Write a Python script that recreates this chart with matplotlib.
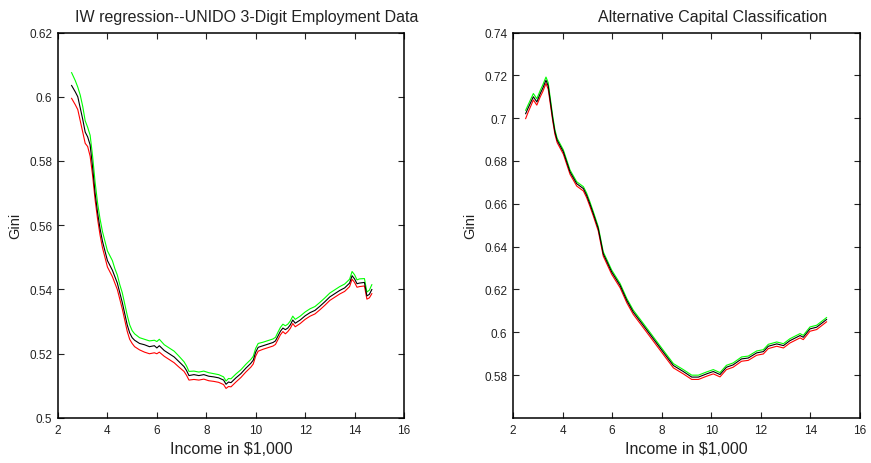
import matplotlib
matplotlib.use('Agg')
import matplotlib.pyplot as plt

plt.rcParams['font.family'] = ['Liberation Sans', 'DejaVu Sans']

# IW regression, UNIDO 3-digit employment data
left_x = [2.55, 2.7, 2.8, 2.9, 3.0, 3.1, 3.2, 3.3, 3.4, 3.5,
          3.6, 3.7, 3.8, 3.9, 4.0, 4.1, 4.2, 4.3, 4.4, 4.5,
          4.6, 4.7, 4.8, 4.9, 5.0, 5.1, 5.3, 5.5, 5.7, 5.9,
          6.0, 6.1, 6.3, 6.5, 6.7, 6.9, 7.1, 7.2, 7.3, 7.5,
          7.7, 7.9, 8.1, 8.3, 8.5, 8.7, 8.8, 8.9, 9.0, 9.2,
          9.4, 9.6, 9.8, 9.9, 10.0, 10.1, 10.3, 10.5, 10.7, 10.8,
          10.9, 11.0, 11.1, 11.2, 11.3, 11.4, 11.5, 11.6, 11.8, 12.0,
          12.2, 12.4, 12.6, 12.8, 13.0, 13.2, 13.4, 13.6, 13.8, 13.9,
          14.0, 14.1, 14.2, 14.4, 14.5, 14.6, 14.7]
left_mid = [0.6035, 0.6015, 0.6000, 0.5965, 0.5930, 0.5890, 0.5875, 0.5850, 0.5780, 0.5700,
            0.5640, 0.5590, 0.5550, 0.5520, 0.5490, 0.5475, 0.5460, 0.5440, 0.5420, 0.5390,
            0.5360, 0.5325, 0.5290, 0.5265, 0.5250, 0.5242, 0.5232, 0.5228, 0.5222, 0.5225,
            0.5218, 0.5225, 0.5210, 0.5200, 0.5190, 0.5175, 0.5160, 0.5148, 0.5132, 0.5135,
            0.5132, 0.5135, 0.5130, 0.5128, 0.5125, 0.5118, 0.5105, 0.5112, 0.5110, 0.5125,
            0.5138, 0.5155, 0.5170, 0.5180, 0.5205, 0.5220, 0.5225, 0.5230, 0.5235, 0.5240,
            0.5255, 0.5270, 0.5280, 0.5275, 0.5280, 0.5290, 0.5305, 0.5295, 0.5305, 0.5318,
            0.5328, 0.5335, 0.5348, 0.5362, 0.5377, 0.5387, 0.5397, 0.5405, 0.5420, 0.5443,
            0.5433, 0.5418, 0.5420, 0.5422, 0.5380, 0.5385, 0.5400]
left_hi = [0.6075, 0.6050, 0.6030, 0.6005, 0.5970, 0.5925, 0.5905, 0.5880, 0.5815, 0.5735,
           0.5670, 0.5620, 0.5580, 0.5550, 0.5520, 0.5505, 0.5490, 0.5465, 0.5445, 0.5415,
           0.5390, 0.5355, 0.5320, 0.5290, 0.5272, 0.5262, 0.5250, 0.5245, 0.5240, 0.5242,
           0.5238, 0.5245, 0.5228, 0.5218, 0.5208, 0.5192, 0.5175, 0.5162, 0.5145, 0.5146,
           0.5143, 0.5146, 0.5141, 0.5138, 0.5135, 0.5128, 0.5115, 0.5123, 0.5122, 0.5137,
           0.5150, 0.5167, 0.5182, 0.5192, 0.5217, 0.5232, 0.5236, 0.5241, 0.5246, 0.5251,
           0.5267, 0.5282, 0.5292, 0.5287, 0.5292, 0.5302, 0.5317, 0.5307, 0.5317, 0.5330,
           0.5340, 0.5347, 0.5360, 0.5374, 0.5389, 0.5399, 0.5409, 0.5417, 0.5432, 0.5456,
           0.5446, 0.5430, 0.5433, 0.5434, 0.5392, 0.5398, 0.5415]
left_lo = [0.5995, 0.5975, 0.5960, 0.5925, 0.5890, 0.5855, 0.5845, 0.5815, 0.5755, 0.5680,
           0.5620, 0.5570, 0.5530, 0.5500, 0.5470, 0.5455, 0.5440, 0.5420, 0.5400, 0.5370,
           0.5340, 0.5305, 0.5270, 0.5245, 0.5232, 0.5222, 0.5212, 0.5205, 0.5200, 0.5203,
           0.5200, 0.5205, 0.5192, 0.5182, 0.5172, 0.5158, 0.5145, 0.5133, 0.5118, 0.5120,
           0.5118, 0.5121, 0.5116, 0.5114, 0.5111, 0.5104, 0.5092, 0.5098, 0.5097, 0.5112,
           0.5126, 0.5143, 0.5158, 0.5168, 0.5193, 0.5208, 0.5214, 0.5219, 0.5224, 0.5229,
           0.5244, 0.5259, 0.5269, 0.5262, 0.5269, 0.5279, 0.5294, 0.5284, 0.5294, 0.5307,
           0.5317, 0.5324, 0.5337, 0.5351, 0.5366, 0.5376, 0.5386, 0.5394, 0.5409, 0.5432,
           0.5422, 0.5407, 0.5409, 0.5411, 0.5370, 0.5374, 0.5387]

# alternative capital classification
right_x = [2.51, 2.6, 2.7, 2.82, 2.96, 3.1, 3.2, 3.33, 3.42, 3.49,
           3.6, 3.69, 3.78, 4.03, 4.3, 4.57, 4.84, 4.97, 5.1, 5.24,
           5.44, 5.64, 5.98, 6.32, 6.59, 6.85, 7.26, 7.66, 8.06, 8.47,
           8.87, 9.21, 9.48, 9.81, 10.08, 10.35, 10.61, 10.88, 11.22, 11.49,
           11.83, 12.1, 12.3, 12.64, 12.91, 13.17, 13.58, 13.71, 13.98, 14.25, 14.65]
right_mid = [0.7021, 0.7045, 0.7070, 0.7100, 0.7076, 0.7115, 0.7140, 0.7177, 0.7150, 0.7092,
             0.7000, 0.6936, 0.6897, 0.6843, 0.6749, 0.6694, 0.6671, 0.6640, 0.6600, 0.6554,
             0.6484, 0.6367, 0.6282, 0.6219, 0.6149, 0.6095, 0.6032, 0.5970, 0.5908, 0.5845,
             0.5817, 0.5791, 0.5791, 0.5806, 0.5817, 0.5803, 0.5837, 0.5848, 0.5876, 0.5880,
             0.5904, 0.5910, 0.5935, 0.5946, 0.5938, 0.5961, 0.5985, 0.5977, 0.6016, 0.6024, 0.6060]
right_hi = [0.7037, 0.7060, 0.7085, 0.7115, 0.7091, 0.7130, 0.7155, 0.7192, 0.7165, 0.7105,
            0.7012, 0.6946, 0.6906, 0.6852, 0.6758, 0.6703, 0.6680, 0.6650, 0.6610, 0.6563,
            0.6493, 0.6376, 0.6291, 0.6228, 0.6158, 0.6104, 0.6041, 0.5979, 0.5917, 0.5854,
            0.5826, 0.5800, 0.5800, 0.5815, 0.5826, 0.5812, 0.5846, 0.5857, 0.5885, 0.5889,
            0.5913, 0.5919, 0.5944, 0.5955, 0.5947, 0.5970, 0.5994, 0.5986, 0.6025, 0.6033, 0.6069]
right_lo = [0.6998, 0.7025, 0.7052, 0.7085, 0.7061, 0.7100, 0.7124, 0.7162, 0.7135, 0.7078,
            0.6988, 0.6925, 0.6886, 0.6832, 0.6738, 0.6683, 0.6660, 0.6629, 0.6589, 0.6543,
            0.6473, 0.6356, 0.6271, 0.6208, 0.6138, 0.6084, 0.6021, 0.5959, 0.5897, 0.5834,
            0.5806, 0.5780, 0.5780, 0.5795, 0.5806, 0.5792, 0.5826, 0.5837, 0.5865, 0.5869,
            0.5893, 0.5899, 0.5924, 0.5935, 0.5927, 0.5950, 0.5974, 0.5966, 0.6005, 0.6013, 0.6049]

x_ticks = [2, 4, 6, 8, 10, 12, 14, 16]
left_yticks = [0.5, 0.52, 0.54, 0.56, 0.58, 0.6, 0.62]
left_ylabels = ['0.5', '0.52', '0.54', '0.56', '0.58', '0.6', '0.62']
right_yticks = [0.58, 0.6, 0.62, 0.64, 0.66, 0.68, 0.7, 0.72, 0.74]
right_ylabels = ['0.58', '0.6', '0.62', '0.64', '0.66', '0.68', '0.7', '0.72', '0.74']

fig = plt.figure(figsize=(8.71, 4.64), dpi=100)
ax1 = fig.add_axes([0.0666, 0.097, 0.3972, 0.8308])
ax2 = fig.add_axes([0.589, 0.097, 0.3984, 0.8308])


def style_axes(ax, yticks, ylabels, ylim):
    ax.set_xlim(2, 16)
    ax.set_ylim(*ylim)
    ax.set_xticks(x_ticks)
    ax.set_yticks(yticks)
    ax.set_yticklabels(ylabels)
    ax.tick_params(direction='in', length=4, width=0.8, top=True, right=True,
                   labelsize=8.5, colors='#222222', pad=4)
    for s in ax.spines.values():
        s.set_linewidth(1.1)
    ax.set_xlabel('Income in $1,000', fontsize=11.5, labelpad=4, color='#222222')
    ax.set_ylabel('Gini', fontsize=10.5, labelpad=5, color='#222222')


for ax, x, mid, hi, lo in [(ax1, left_x, left_mid, left_hi, left_lo),
                           (ax2, right_x, right_mid, right_hi, right_lo)]:
    ax.plot(x, hi, color='#00ff00', lw=0.8)
    ax.plot(x, lo, color='#ff0000', lw=0.8)
    ax.plot(x, mid, color='black', lw=0.8)

style_axes(ax1, left_yticks, left_ylabels, (0.5, 0.62))
style_axes(ax2, right_yticks, right_ylabels, (0.56, 0.74))

fig.text(247 / 871, 0.963, 'IW regression--UNIDO 3-Digit Employment Data',
         ha='center', va='center', fontsize=11.5, color='#222222')
fig.text(713 / 871, 0.963, 'Alternative Capital Classification',
         ha='center', va='center', fontsize=11.5, color='#222222')

fig.savefig('out.png', dpi=100)
